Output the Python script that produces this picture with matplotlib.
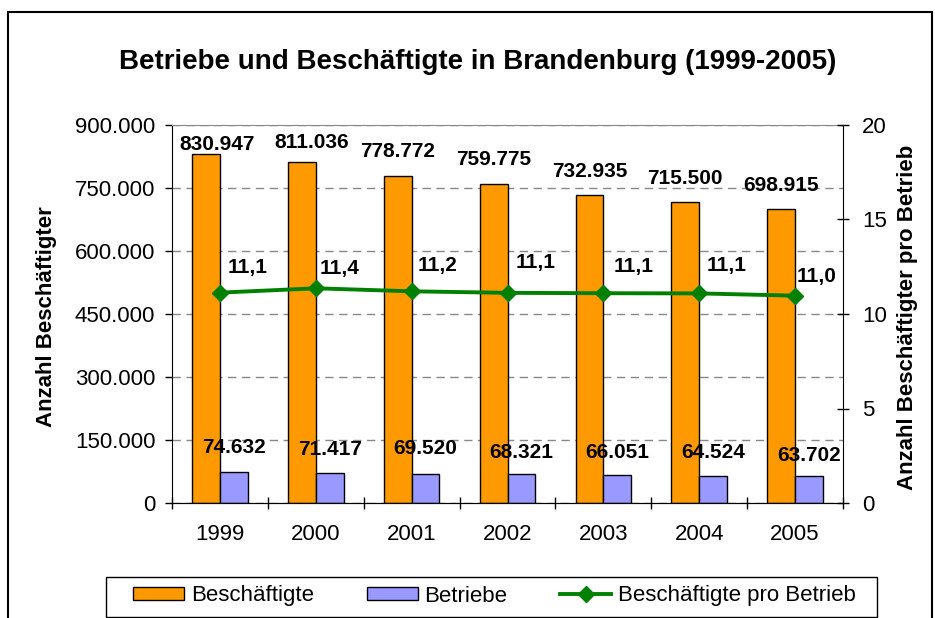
import matplotlib
matplotlib.use('Agg')
import matplotlib.pyplot as plt
import numpy as np
from matplotlib.patches import Rectangle, Patch
from matplotlib.lines import Line2D
from matplotlib.ticker import FuncFormatter

plt.rcParams['font.family'] = ['Liberation Sans', 'DejaVu Sans']

# data
years = ['1999', '2000', '2001', '2002', '2003', '2004', '2005']
beschaeftigte = [830947, 811036, 778772, 759775, 732935, 715500, 698915]
betriebe = [74632, 71417, 69520, 68321, 66051, 64524, 63702]
pro_betrieb = [11.13, 11.36, 11.20, 11.12, 11.10, 11.09, 10.97]

# label nudges in pixels (labels were dragged by hand in the original)
top_dx = [11, 10, 0, 0, 0, 0, 0]
top_dy = [10, 20, 24, 24, 24, 24, 24]
bot_dy = [24, 24, 25, 22, 23, 23, 21]
pro_dx = [28, 24, 26, 28, 30, 27, 21]
pro_dy = [25, 20, 26, 30, 27, 28, 19]

def de_thousands(v, pos=None):
    return f"{int(v):,}".replace(',', '.')

W, H = 935, 618
fig = plt.figure(figsize=(W / 100, H / 100), dpi=100)
ax = fig.add_axes([172 / W, (H - 503) / H, (843 - 172) / W, 378 / H])

x = np.arange(len(years))
bw = 0.29
ax.bar(x - bw / 2, beschaeftigte, bw, color='#FF9900', edgecolor='black', lw=1, zorder=2)
ax.bar(x + bw / 2, betriebe, bw, color='#9999FF', edgecolor='black', lw=1, zorder=2)

ax.set_xlim(-0.5, len(years) - 0.5)
ax.set_ylim(0, 900000)
ax.set_yticks(range(0, 900001, 150000))
ax.yaxis.set_major_formatter(FuncFormatter(de_thousands))
ax.yaxis.grid(True, ls=(0, (6, 4)), color='#888888', lw=1)
ax.set_axisbelow(True)
ax.tick_params(axis='y', direction='out', length=5, width=1, labelsize=16, pad=7)

ax.set_xticks(np.arange(-0.5, len(years), 1), labels=[''] * (len(years) + 1))
ax.set_xticks(x, labels=years, minor=True)
ax.tick_params(axis='x', which='major', direction='inout', length=9, width=1)
ax.tick_params(axis='x', which='minor', length=0, labelsize=16, pad=15)

ax.spines['top'].set_color('#888888')
ax.spines['right'].set_visible(False)

for i in x:
    ax.annotate(de_thousands(beschaeftigte[i]), (i - bw / 2, beschaeftigte[i]),
                xytext=(top_dx[i], top_dy[i]), textcoords='offset pixels',
                ha='center', va='center', fontsize=15, fontweight='bold', zorder=5)
    ax.annotate(de_thousands(betriebe[i]), (i + bw / 2, betriebe[i]),
                xytext=(0, bot_dy[i]), textcoords='offset pixels',
                ha='center', va='center', fontsize=15, fontweight='bold', zorder=5)

ax2 = ax.twinx()
ax2.set_ylim(0, 20)
ax2.set_yticks([0, 5, 10, 15, 20])
ax2.tick_params(axis='y', direction='inout', length=9, width=1, labelsize=16, pad=9)
ax2.spines['top'].set_visible(False)
ax2.spines['left'].set_visible(False)
ax2.plot(x, pro_betrieb, color='#008000', lw=2.8, marker='D', markersize=8.5, zorder=4)
for i in x:
    ax2.annotate(f"{pro_betrieb[i]:.1f}".replace('.', ','), (i, pro_betrieb[i]),
                 xytext=(pro_dx[i], pro_dy[i]), textcoords='offset pixels',
                 ha='center', va='center', fontsize=15, fontweight='bold', zorder=5)

fig.text(478 / W, 1 - 62 / H, 'Betriebe und Beschäftigte in Brandenburg (1999-2005)',
         ha='center', va='center', fontsize=20, fontweight='bold')
fig.text(47 / W, 1 - 317 / H, 'Anzahl Beschäftigter', rotation=90,
         ha='center', va='center', fontsize=16, fontweight='bold')
fig.text(908 / W, 1 - 317 / H, 'Anzahl Beschäftigter pro Betrieb', rotation=90,
         ha='center', va='center', fontsize=16, fontweight='bold')

# legend: entries spread over the inner width, frame drawn separately
handles = [Patch(facecolor='#FF9900', edgecolor='black', lw=1),
           Patch(facecolor='#9999FF', edgecolor='black', lw=1),
           Line2D([], [], color='#008000', lw=2.8, marker='D', markersize=8.5)]
fig.legend(handles, ['Beschäftigte', 'Betriebe', 'Beschäftigte pro Betrieb'],
           ncol=3, loc='center', mode='expand',
           bbox_to_anchor=(133 / W, 1 - 615 / H, (856 - 133) / W, 38 / H),
           fontsize=16, frameon=False, handlelength=2.3,
           handleheight=0.5, handletextpad=0.3, borderaxespad=0, borderpad=0)
fig.add_artist(Rectangle((106 / W, 1 - 617 / H), 771 / W, 40 / H,
                         transform=fig.transFigure, fill=False, ec='black', lw=1))

# outer chart border, bottom runs off the image
fig.add_artist(Rectangle((8 / W, -0.1), (932 - 8) / W, 1.1 - 12 / H,
                         transform=fig.transFigure, fill=False, ec='black', lw=1.5))

fig.savefig('out.png', dpi=100)
